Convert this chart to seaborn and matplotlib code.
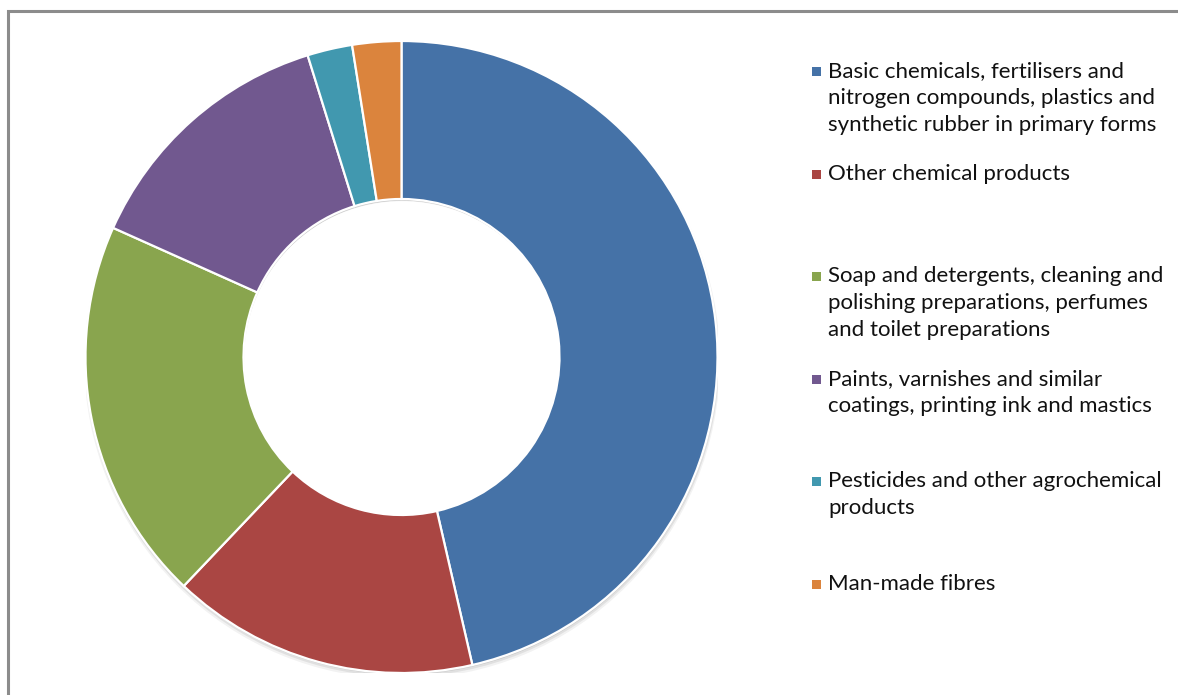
import matplotlib
matplotlib.use("Agg")
import matplotlib.pyplot as plt
from matplotlib.patches import Rectangle, Wedge
import seaborn as sns

sns.set_theme(style="white")
plt.rcParams['font.family'] = ['Lato', 'DejaVu Sans']

categories = [
    "Basic chemicals, fertilisers and\nnitrogen compounds, plastics and\nsynthetic rubber in primary forms",
    "Other chemical products",
    "Soap and detergents, cleaning and\npolishing preparations, perfumes\nand toilet preparations",
    "Paints, varnishes and similar\ncoatings, printing ink and mastics",
    "Pesticides and other agrochemical\nproducts",
    "Man-made fibres",
]
shares = [46.4, 15.7, 19.6, 13.5, 2.3, 2.5]
colors = ["#4572A7", "#AA4643", "#89A54E", "#71588F", "#4198AF", "#DB843D"]

W, H = 1178, 695
fig = plt.figure(figsize=(W / 100, H / 100), dpi=100)
fig.patch.set_facecolor("white")

# chart area outline
fig.patches.append(Rectangle((7.5 / W, -0.1), 1.2, (H - 11.5) / H + 0.1,
                             transform=fig.transFigure, fill=False,
                             edgecolor="#8c8c8c", linewidth=2.2, zorder=0))

cx, cy, r = 401.5, 357, 316
ring = 0.5
ax = fig.add_axes([(cx - r) / W, (H - cy - r) / H, 2 * r / W, 2 * r / H])

# soft drop shadow under the ring
for k, a in enumerate([0.05, 0.07, 0.10]):
    off = 0.013 - k * 0.004
    ax.add_patch(Wedge((0.002, -off), 1.0 + 0.003 * (2 - k), 0, 360,
                       width=ring, facecolor="black", alpha=a,
                       edgecolor="none", zorder=0))

ax.pie(shares, colors=colors, startangle=90, counterclock=False,
       wedgeprops=dict(width=ring, edgecolor="white", linewidth=1.6))
ax.set_xlim(-1, 1)
ax.set_ylim(-1, 1)
ax.set_aspect("equal")
ax.axis("off")

# legend entries, one slot per category
x_mark, x_text = 812, 828
y_first, step, line_h = 71, 102.6, 27
for i, (lab, col) in enumerate(zip(categories, colors)):
    y = y_first + i * step
    fig.patches.append(Rectangle((x_mark / W, (H - y - 5) / H), 9 / W, 9 / H,
                                 transform=fig.transFigure, facecolor=col,
                                 edgecolor="none"))
    for j, line in enumerate(lab.split("\n")):
        fig.text(x_text / W, (H - (y + j * line_h)) / H, line, ha="left",
                 va="center", fontsize=16, color="#111111")

fig.savefig("out.png", dpi=100, facecolor="white")
